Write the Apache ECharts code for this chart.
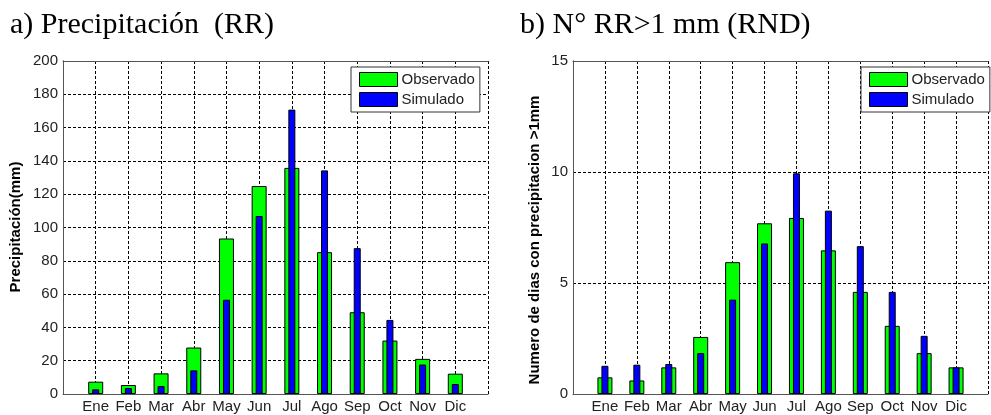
<!DOCTYPE html>
<html>
<head>
<meta charset="utf-8">
<script src="https://cdn.jsdelivr.net/npm/echarts@6/dist/echarts.min.js"></script>
<style>
html,body{margin:0;padding:0;background:#fff;}
#chart{width:991px;height:415px;}
</style>
</head>
<body>
<div id="chart"></div>
<script>
const months = ['Ene','Feb','Mar','Abr','May','Jun','Jul','Ago','Sep','Oct','Nov','Dic'];
const rrObs = [7.4, 5.4, 12.4, 27.9, 93.4, 124.9, 135.8, 85.2, 49.1, 32.1, 21.1, 12.2];
const rrSim = [2.8, 3.6, 4.8, 14.2, 56.6, 106.9, 170.8, 134.3, 87.6, 44.5, 17.7, 6.0];
const rndObs = [0.75, 0.61, 1.2, 2.57, 5.94, 7.69, 7.93, 6.47, 4.6, 3.07, 1.84, 1.2];
const rndSim = [1.27, 1.32, 1.35, 1.84, 4.25, 6.78, 9.94, 8.26, 6.66, 4.6, 2.62, 1.2];
const rrTicks = [0, 20, 40, 60, 80, 100, 120, 140, 160, 180, 200];
const rndTicks = [0, 5, 10, 15];
const seriesNames = ['Observado', 'Simulado'];
const titles = ['a) Precipitación  (RR)', 'b) N° RR>1 mm (RND)'];
const yNames = ['Precipitación(mm)', 'Numero de dias con precipitacion >1mm'];

const FONT = 'Liberation Sans, Arial, sans-serif';
const GREEN = '#00ff00', BLUE = '#0000ff';
const AXC = '#555';
const gridLine = {show: true, lineStyle: {color: '#000', width: 1, type: [3, 2]}};

function pts(arr){ return arr.map((v, i) => [i + 1, v]); }

function xAxes(gi){
  return [
    {type: 'value', gridIndex: gi, min: 0, max: months.length + 1, interval: 1,
     axisLine: {show: true, onZero: false, lineStyle: {color: AXC}}, axisTick: {show: false},
     axisLabel: {fontFamily: FONT, fontSize: 15, color: '#222', margin: 5,
       formatter: v => months[v - 1] || ''},
     splitLine: gridLine},
    {type: 'value', gridIndex: gi, position: 'top', min: 0, max: months.length + 1, interval: 1,
     axisLine: {show: true, onZero: false, lineStyle: {color: AXC}}, axisTick: {show: false},
     axisLabel: {show: false}, splitLine: {show: false}}
  ];
}
function yAxes(gi, ticks){
  const mn = ticks[0], mx = ticks[ticks.length - 1], iv = ticks[1] - ticks[0];
  return [
    {type: 'value', gridIndex: gi, min: mn, max: mx, interval: iv,
     axisLine: {show: true, lineStyle: {color: AXC}}, axisTick: {show: false},
     axisLabel: {fontFamily: FONT, fontSize: 15, color: '#222', margin: 5},
     splitLine: gridLine},
    {type: 'value', gridIndex: gi, position: 'right', min: mn, max: mx, interval: iv,
     axisLine: {show: true, lineStyle: {color: AXC}}, axisTick: {show: false},
     axisLabel: {show: false}, splitLine: {show: false}}
  ];
}
function legend(left){
  return {
    show: true, data: seriesNames, left: left, top: 67, orient: 'vertical',
    itemWidth: 38, itemHeight: 14, itemGap: 5, icon: 'rect',
    padding: [5, 5, 5, 8], backgroundColor: '#fff', borderColor: '#333', borderWidth: 1,
    selectedMode: false,
    textStyle: {fontFamily: FONT, fontSize: 15, color: '#222', lineHeight: 15, padding: [0,0,0,-1]},
    itemStyle: {borderColor: '#000', borderWidth: 1}
  };
}
function bars(name, data, xi, yi, color, w){
  return {
    type: 'bar', name: name, data: pts(data), xAxisIndex: xi, yAxisIndex: yi,
    barWidth: w, itemStyle: {color: color, borderColor: '#000', borderWidth: 1},
    animation: false, silent: true
  };
}

const chart = echarts.init(document.getElementById('chart'), null, {renderer: 'canvas'});
chart.setOption({
  backgroundColor: '#fff',
  animation: false,
  grid: [
    {left: 63, top: 61, width: 425, height: 333},
    {left: 573, top: 61, width: 424, height: 333}
  ],
  xAxis: [...xAxes(0), ...xAxes(1)],
  yAxis: [...yAxes(0, rrTicks), ...yAxes(1, rndTicks)],
  legend: [legend(351), legend(861)],
  series: [
    bars(seriesNames[0], rrObs, 0, 0, GREEN, 15),
    bars(seriesNames[1], rrSim, 1, 0, BLUE, 7),
    bars(seriesNames[0], rndObs, 2, 2, GREEN, 15),
    bars(seriesNames[1], rndSim, 3, 2, BLUE, 7)
  ],
  graphic: [
    {type: 'text', left: 10, top: 10, style: {text: titles[0], font: '30px "Liberation Serif", "Times New Roman", serif', fill: '#000'}},
    {type: 'text', left: 520, top: 10, style: {text: titles[1], font: '30px "Liberation Serif", "Times New Roman", serif', fill: '#000'}},
    {type: 'text', x: 16, y: 227, rotation: Math.PI / 2,
     style: {text: yNames[0], font: 'bold 15px ' + FONT, fill: '#000', align: 'center', verticalAlign: 'middle'}},
    {type: 'text', x: 535, y: 240, rotation: Math.PI / 2,
     style: {text: yNames[1], font: 'bold 15px ' + FONT, fill: '#000', align: 'center', verticalAlign: 'middle'}}
  ]
});
</script>
</body>
</html>
